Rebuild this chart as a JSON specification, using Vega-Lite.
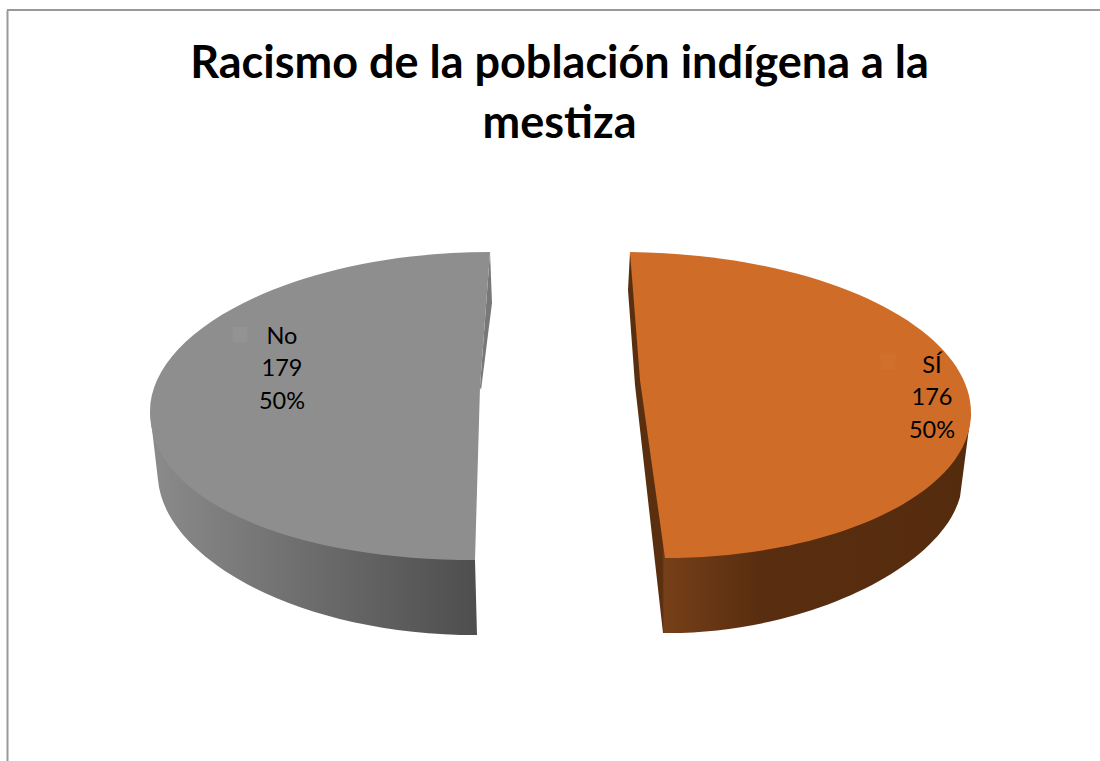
{
  "$schema": "https://vega.github.io/schema/vega-lite/v6.json",
  "width": 1093,
  "height": 751,
  "autosize": "none",
  "padding": {"left": 7, "top": 10, "right": 0, "bottom": 0},
  "background": "white",
  "config": {"view": {"stroke": null}, "font": "Lato"},
  "title": {
    "text": ["Racismo de la población indígena a la", "mestiza"],
    "anchor": "middle",
    "frame": "group",
    "baseline": "top",
    "offset": -138,
    "dx": 6,
    "font": "Lato",
    "fontSize": 45,
    "fontWeight": "bold",
    "lineHeight": 60,
    "color": "#000000"
  },
  "data": {
    "values": [
      {"respuesta": "No", "casos": 179, "porcentaje": "50%"},
      {"respuesta": "SÍ", "casos": 176, "porcentaje": "50%"}
    ]
  },
  "transform": [
    {"calculate": "datum.respuesta + '\\n' + datum.casos + '\\n' + datum.porcentaje", "as": "etiqueta"}
  ],
  "encoding": {
    "x": {"field": "respuesta", "type": "nominal", "axis": null, "scale": {"type": "point", "padding": 0, "domain": ["No", "SÍ"], "range": [483, 623]}},
    "y": {"datum": 0, "type": "quantitative", "scale": {"domain": [-1, 1]}, "axis": {"title": null, "labels": false, "ticks": false, "grid": false, "domain": true, "domainColor": "#999999", "domainWidth": 2}}
  },
  "layer": [
    {
      "mark": {"type": "rule", "stroke": "#999999", "strokeWidth": 2},
      "encoding": {"x": null, "y": {"datum": 1, "type": "quantitative"}}
    },
    {
      "transform": [{"filter": "datum.respuesta === 'No'"}],
      "layer": [
        {
          "mark": {"type": "point", "filled": true, "opacity": 1, "size": 40000, "strokeWidth": 0,
            "shape": "M-3.40,0.265 L-3.32,0.945 C-3.25,1.745 -1.90,2.495 -0.13,2.495 L-0.15,1.745 L-0.15,0.2 Z",
            "fill": {"gradient": "linear", "x1": 0, "y1": 0, "x2": 1, "y2": 0, "stops": [
              {"offset": 0, "color": "#8b8b8b"}, {"offset": 0.5, "color": "#6c6c6c"}, {"offset": 1, "color": "#4e4e4e"}]}}
        },
        {
          "mark": {"type": "point", "filled": true, "opacity": 1, "size": 40000, "strokeWidth": 0, "fill": "#787878",
            "shape": "M0,-1.335 L0.02,-0.825 L-0.09,0.045 L-0.10,0.015 Z"}
        },
        {
          "mark": {"type": "point", "filled": true, "opacity": 1, "size": 40000, "strokeWidth": 0, "fill": "#8e8e8e",
            "shape": "M0,-1.335 C-1.88,-1.335 -3.40,-0.585 -3.40,0.265 C-3.40,1.145 -2.00,1.745 -0.15,1.745 L-0.10,0.015 Z"}
        },
        {
          "mark": {"type": "square", "opacity": 1, "size": 225, "fill": "#939393", "strokeWidth": 0, "xOffset": -250, "yOffset": -51}
        },
        {
          "mark": {"type": "text", "font": "Lato", "fontSize": 23.5, "color": "#000000", "lineBreak": "\n", "lineHeight": 32.5, "xOffset": -208, "yOffset": -49, "baseline": "middle", "align": "center"},
          "encoding": {"text": {"field": "etiqueta", "type": "nominal"}}
        }
      ]
    },
    {
      "transform": [{"filter": "datum.respuesta === 'SÍ'"}],
      "layer": [
        {
          "mark": {"type": "point", "filled": true, "opacity": 1, "size": 40000, "strokeWidth": 0,
            "shape": "M0,-1.335 L-0.02,-0.955 L0.05,-0.005 L0.33,2.475 C1.70,2.495 3.10,1.845 3.30,1.115 L3.41,0.275 L0.35,0.2 Z",
            "fill": {"gradient": "linear", "x1": 0, "y1": 0, "x2": 1, "y2": 0, "stops": [
              {"offset": 0, "color": "#5a2f10"}, {"offset": 0.1, "color": "#5a2f10"}, {"offset": 0.105, "color": "#763f18"}, {"offset": 0.38, "color": "#592e10"}, {"offset": 1, "color": "#552b0e"}]}}
        },
        {
          "mark": {"type": "point", "filled": true, "opacity": 1, "size": 40000, "strokeWidth": 0, "fill": "#ce6c28",
            "shape": "M0,-1.335 C2.00,-1.305 3.41,-0.555 3.41,0.275 C3.41,1.095 2.00,1.725 0.35,1.725 L0.10,-0.055 Z"}
        },
        {
          "mark": {"type": "square", "opacity": 1, "size": 225, "fill": "#d0702c", "strokeWidth": 0, "xOffset": 258, "yOffset": -24}
        },
        {
          "mark": {"type": "text", "font": "Lato", "fontSize": 23.5, "color": "#000000", "lineBreak": "\n", "lineHeight": 32.5, "xOffset": 302, "yOffset": -20, "baseline": "middle", "align": "center"},
          "encoding": {"text": {"field": "etiqueta", "type": "nominal"}}
        }
      ]
    }
  ]
}
